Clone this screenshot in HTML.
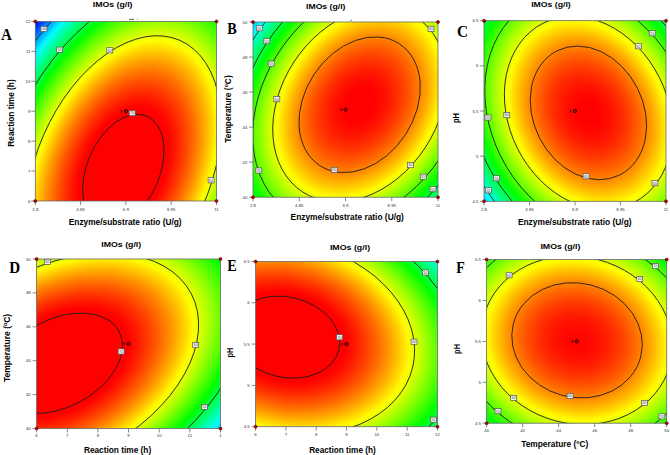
<!DOCTYPE html>
<html><head><meta charset="utf-8"><style>
html,body{margin:0;padding:0;background:#fff;}
body{width:670px;height:455px;overflow:hidden;}
svg{display:block;}
</style></head><body>
<svg width="670" height="455" viewBox="0 0 670 455">
<defs><radialGradient id="gA" gradientUnits="userSpaceOnUse" cx="0" cy="0" r="1" gradientTransform="matrix(100.65974 -231.19018 -142.43281 -62.01496 123.387 170.016)"><stop offset="0.0000" stop-color="#ff0000"/><stop offset="0.0111" stop-color="#ff0000"/><stop offset="0.0222" stop-color="#ff0000"/><stop offset="0.0333" stop-color="#ff0000"/><stop offset="0.0444" stop-color="#ff0000"/><stop offset="0.0556" stop-color="#ff0000"/><stop offset="0.0667" stop-color="#ff0000"/><stop offset="0.0778" stop-color="#ff0000"/><stop offset="0.0889" stop-color="#ff0000"/><stop offset="0.1000" stop-color="#ff0000"/><stop offset="0.1111" stop-color="#ff0000"/><stop offset="0.1222" stop-color="#ff0000"/><stop offset="0.1333" stop-color="#ff0000"/><stop offset="0.1444" stop-color="#ff0000"/><stop offset="0.1556" stop-color="#ff0000"/><stop offset="0.1667" stop-color="#ff0000"/><stop offset="0.1778" stop-color="#ff0000"/><stop offset="0.1889" stop-color="#ff0000"/><stop offset="0.2000" stop-color="#ff0000"/><stop offset="0.2111" stop-color="#ff0000"/><stop offset="0.2222" stop-color="#ff0000"/><stop offset="0.2333" stop-color="#ff0000"/><stop offset="0.2444" stop-color="#ff0000"/><stop offset="0.2556" stop-color="#ff0000"/><stop offset="0.2667" stop-color="#ff0400"/><stop offset="0.2778" stop-color="#ff0b00"/><stop offset="0.2889" stop-color="#ff1200"/><stop offset="0.3000" stop-color="#ff1a00"/><stop offset="0.3111" stop-color="#ff2100"/><stop offset="0.3222" stop-color="#ff2900"/><stop offset="0.3333" stop-color="#ff3200"/><stop offset="0.3444" stop-color="#ff3a00"/><stop offset="0.3556" stop-color="#ff4300"/><stop offset="0.3667" stop-color="#ff4c00"/><stop offset="0.3778" stop-color="#ff5600"/><stop offset="0.3889" stop-color="#ff5f00"/><stop offset="0.4000" stop-color="#ff6900"/><stop offset="0.4111" stop-color="#ff7300"/><stop offset="0.4222" stop-color="#ff7e00"/><stop offset="0.4333" stop-color="#ff8900"/><stop offset="0.4444" stop-color="#ff9400"/><stop offset="0.4556" stop-color="#ff9f00"/><stop offset="0.4667" stop-color="#ffab00"/><stop offset="0.4778" stop-color="#ffb700"/><stop offset="0.4889" stop-color="#ffc300"/><stop offset="0.5000" stop-color="#ffcf00"/><stop offset="0.5111" stop-color="#ffdc00"/><stop offset="0.5222" stop-color="#ffe900"/><stop offset="0.5333" stop-color="#fff700"/><stop offset="0.5444" stop-color="#faff00"/><stop offset="0.5556" stop-color="#ecff00"/><stop offset="0.5667" stop-color="#deff00"/><stop offset="0.5778" stop-color="#cfff00"/><stop offset="0.5889" stop-color="#c1ff00"/><stop offset="0.6000" stop-color="#b2ff00"/><stop offset="0.6111" stop-color="#a2ff00"/><stop offset="0.6222" stop-color="#93ff00"/><stop offset="0.6333" stop-color="#83ff00"/><stop offset="0.6444" stop-color="#73ff00"/><stop offset="0.6556" stop-color="#62ff00"/><stop offset="0.6667" stop-color="#52ff00"/><stop offset="0.6778" stop-color="#41ff00"/><stop offset="0.6889" stop-color="#2fff00"/><stop offset="0.7000" stop-color="#1eff00"/><stop offset="0.7111" stop-color="#0cff00"/><stop offset="0.7222" stop-color="#00ff06"/><stop offset="0.7333" stop-color="#00ff18"/><stop offset="0.7444" stop-color="#00ff2b"/><stop offset="0.7556" stop-color="#00ff3e"/><stop offset="0.7667" stop-color="#00ff51"/><stop offset="0.7778" stop-color="#00ff65"/><stop offset="0.7889" stop-color="#00ff78"/><stop offset="0.8000" stop-color="#00ff8c"/><stop offset="0.8111" stop-color="#00ffa1"/><stop offset="0.8222" stop-color="#00ffb5"/><stop offset="0.8333" stop-color="#00ffca"/><stop offset="0.8444" stop-color="#00ffdf"/><stop offset="0.8556" stop-color="#00fff5"/><stop offset="0.8667" stop-color="#00f3ff"/><stop offset="0.8778" stop-color="#00ddff"/><stop offset="0.8889" stop-color="#00c7ff"/><stop offset="0.9000" stop-color="#00b0ff"/><stop offset="0.9111" stop-color="#009aff"/><stop offset="0.9222" stop-color="#0082ff"/><stop offset="0.9333" stop-color="#006bff"/><stop offset="0.9444" stop-color="#0053ff"/><stop offset="0.9556" stop-color="#003bff"/><stop offset="0.9667" stop-color="#0023ff"/><stop offset="0.9778" stop-color="#000bff"/><stop offset="0.9889" stop-color="#0000ff"/><stop offset="1.0000" stop-color="#0000ff"/></radialGradient><clipPath id="cA"><rect x="35.30" y="21.40" width="181.20" height="179.60"/></clipPath><radialGradient id="gB" gradientUnits="userSpaceOnUse" cx="0" cy="0" r="1" gradientTransform="matrix(99.57933 -152.54940 -114.79084 -74.93176 359.628 104.727)"><stop offset="0.0000" stop-color="#ff0000"/><stop offset="0.0111" stop-color="#ff0000"/><stop offset="0.0222" stop-color="#ff0000"/><stop offset="0.0333" stop-color="#ff0000"/><stop offset="0.0444" stop-color="#ff0000"/><stop offset="0.0556" stop-color="#ff0000"/><stop offset="0.0667" stop-color="#ff0000"/><stop offset="0.0778" stop-color="#ff0000"/><stop offset="0.0889" stop-color="#ff0000"/><stop offset="0.1000" stop-color="#ff0100"/><stop offset="0.1111" stop-color="#ff0300"/><stop offset="0.1222" stop-color="#ff0600"/><stop offset="0.1333" stop-color="#ff0800"/><stop offset="0.1444" stop-color="#ff0b00"/><stop offset="0.1556" stop-color="#ff0e00"/><stop offset="0.1667" stop-color="#ff1100"/><stop offset="0.1778" stop-color="#ff1400"/><stop offset="0.1889" stop-color="#ff1800"/><stop offset="0.2000" stop-color="#ff1c00"/><stop offset="0.2111" stop-color="#ff2000"/><stop offset="0.2222" stop-color="#ff2400"/><stop offset="0.2333" stop-color="#ff2900"/><stop offset="0.2444" stop-color="#ff2d00"/><stop offset="0.2556" stop-color="#ff3200"/><stop offset="0.2667" stop-color="#ff3700"/><stop offset="0.2778" stop-color="#ff3d00"/><stop offset="0.2889" stop-color="#ff4200"/><stop offset="0.3000" stop-color="#ff4800"/><stop offset="0.3111" stop-color="#ff4e00"/><stop offset="0.3222" stop-color="#ff5400"/><stop offset="0.3333" stop-color="#ff5a00"/><stop offset="0.3444" stop-color="#ff6100"/><stop offset="0.3556" stop-color="#ff6800"/><stop offset="0.3667" stop-color="#ff6f00"/><stop offset="0.3778" stop-color="#ff7600"/><stop offset="0.3889" stop-color="#ff7e00"/><stop offset="0.4000" stop-color="#ff8600"/><stop offset="0.4111" stop-color="#ff8d00"/><stop offset="0.4222" stop-color="#ff9600"/><stop offset="0.4333" stop-color="#ff9e00"/><stop offset="0.4444" stop-color="#ffa700"/><stop offset="0.4556" stop-color="#ffaf00"/><stop offset="0.4667" stop-color="#ffb800"/><stop offset="0.4778" stop-color="#ffc200"/><stop offset="0.4889" stop-color="#ffcb00"/><stop offset="0.5000" stop-color="#ffd500"/><stop offset="0.5111" stop-color="#ffdf00"/><stop offset="0.5222" stop-color="#ffe900"/><stop offset="0.5333" stop-color="#fff300"/><stop offset="0.5444" stop-color="#fffe00"/><stop offset="0.5556" stop-color="#f6ff00"/><stop offset="0.5667" stop-color="#ebff00"/><stop offset="0.5778" stop-color="#dfff00"/><stop offset="0.5889" stop-color="#d4ff00"/><stop offset="0.6000" stop-color="#c8ff00"/><stop offset="0.6111" stop-color="#bcff00"/><stop offset="0.6222" stop-color="#b0ff00"/><stop offset="0.6333" stop-color="#a4ff00"/><stop offset="0.6444" stop-color="#98ff00"/><stop offset="0.6556" stop-color="#8bff00"/><stop offset="0.6667" stop-color="#7eff00"/><stop offset="0.6778" stop-color="#71ff00"/><stop offset="0.6889" stop-color="#63ff00"/><stop offset="0.7000" stop-color="#56ff00"/><stop offset="0.7111" stop-color="#48ff00"/><stop offset="0.7222" stop-color="#3aff00"/><stop offset="0.7333" stop-color="#2cff00"/><stop offset="0.7444" stop-color="#1dff00"/><stop offset="0.7556" stop-color="#0fff00"/><stop offset="0.7667" stop-color="#00ff00"/><stop offset="0.7778" stop-color="#00ff0f"/><stop offset="0.7889" stop-color="#00ff1f"/><stop offset="0.8000" stop-color="#00ff2e"/><stop offset="0.8111" stop-color="#00ff3e"/><stop offset="0.8222" stop-color="#00ff4e"/><stop offset="0.8333" stop-color="#00ff5e"/><stop offset="0.8444" stop-color="#00ff6f"/><stop offset="0.8556" stop-color="#00ff7f"/><stop offset="0.8667" stop-color="#00ff90"/><stop offset="0.8778" stop-color="#00ffa1"/><stop offset="0.8889" stop-color="#00ffb3"/><stop offset="0.9000" stop-color="#00ffc4"/><stop offset="0.9111" stop-color="#00ffd6"/><stop offset="0.9222" stop-color="#00ffe8"/><stop offset="0.9333" stop-color="#00fffa"/><stop offset="0.9444" stop-color="#00f2ff"/><stop offset="0.9556" stop-color="#00dfff"/><stop offset="0.9667" stop-color="#00ccff"/><stop offset="0.9778" stop-color="#00b9ff"/><stop offset="0.9889" stop-color="#00a6ff"/><stop offset="1.0000" stop-color="#0093ff"/></radialGradient><clipPath id="cB"><rect x="253.00" y="22.00" width="185.00" height="175.20"/></clipPath><radialGradient id="gC" gradientUnits="userSpaceOnUse" cx="0" cy="0" r="1" gradientTransform="matrix(-78.56603 -155.81613 -123.03020 62.03462 588.406 112.918)"><stop offset="0.0000" stop-color="#ff0000"/><stop offset="0.0111" stop-color="#ff0000"/><stop offset="0.0222" stop-color="#ff0000"/><stop offset="0.0333" stop-color="#ff0000"/><stop offset="0.0444" stop-color="#ff0000"/><stop offset="0.0556" stop-color="#ff0000"/><stop offset="0.0667" stop-color="#ff0100"/><stop offset="0.0778" stop-color="#ff0200"/><stop offset="0.0889" stop-color="#ff0400"/><stop offset="0.1000" stop-color="#ff0600"/><stop offset="0.1111" stop-color="#ff0800"/><stop offset="0.1222" stop-color="#ff0a00"/><stop offset="0.1333" stop-color="#ff0c00"/><stop offset="0.1444" stop-color="#ff0f00"/><stop offset="0.1556" stop-color="#ff1200"/><stop offset="0.1667" stop-color="#ff1500"/><stop offset="0.1778" stop-color="#ff1800"/><stop offset="0.1889" stop-color="#ff1c00"/><stop offset="0.2000" stop-color="#ff1f00"/><stop offset="0.2111" stop-color="#ff2300"/><stop offset="0.2222" stop-color="#ff2700"/><stop offset="0.2333" stop-color="#ff2c00"/><stop offset="0.2444" stop-color="#ff3000"/><stop offset="0.2556" stop-color="#ff3500"/><stop offset="0.2667" stop-color="#ff3a00"/><stop offset="0.2778" stop-color="#ff3f00"/><stop offset="0.2889" stop-color="#ff4500"/><stop offset="0.3000" stop-color="#ff4a00"/><stop offset="0.3111" stop-color="#ff5000"/><stop offset="0.3222" stop-color="#ff5600"/><stop offset="0.3333" stop-color="#ff5c00"/><stop offset="0.3444" stop-color="#ff6300"/><stop offset="0.3556" stop-color="#ff6900"/><stop offset="0.3667" stop-color="#ff7000"/><stop offset="0.3778" stop-color="#ff7700"/><stop offset="0.3889" stop-color="#ff7f00"/><stop offset="0.4000" stop-color="#ff8600"/><stop offset="0.4111" stop-color="#ff8e00"/><stop offset="0.4222" stop-color="#ff9600"/><stop offset="0.4333" stop-color="#ff9e00"/><stop offset="0.4444" stop-color="#ffa600"/><stop offset="0.4556" stop-color="#ffaf00"/><stop offset="0.4667" stop-color="#ffb700"/><stop offset="0.4778" stop-color="#ffc000"/><stop offset="0.4889" stop-color="#ffca00"/><stop offset="0.5000" stop-color="#ffd300"/><stop offset="0.5111" stop-color="#ffdd00"/><stop offset="0.5222" stop-color="#ffe600"/><stop offset="0.5333" stop-color="#fff100"/><stop offset="0.5444" stop-color="#fffb00"/><stop offset="0.5556" stop-color="#f9ff00"/><stop offset="0.5667" stop-color="#eeff00"/><stop offset="0.5778" stop-color="#e3ff00"/><stop offset="0.5889" stop-color="#d8ff00"/><stop offset="0.6000" stop-color="#cdff00"/><stop offset="0.6111" stop-color="#c1ff00"/><stop offset="0.6222" stop-color="#b6ff00"/><stop offset="0.6333" stop-color="#aaff00"/><stop offset="0.6444" stop-color="#9eff00"/><stop offset="0.6556" stop-color="#91ff00"/><stop offset="0.6667" stop-color="#85ff00"/><stop offset="0.6778" stop-color="#78ff00"/><stop offset="0.6889" stop-color="#6bff00"/><stop offset="0.7000" stop-color="#5eff00"/><stop offset="0.7111" stop-color="#50ff00"/><stop offset="0.7222" stop-color="#43ff00"/><stop offset="0.7333" stop-color="#35ff00"/><stop offset="0.7444" stop-color="#27ff00"/><stop offset="0.7556" stop-color="#18ff00"/><stop offset="0.7667" stop-color="#0aff00"/><stop offset="0.7778" stop-color="#00ff05"/><stop offset="0.7889" stop-color="#00ff14"/><stop offset="0.8000" stop-color="#00ff23"/><stop offset="0.8111" stop-color="#00ff32"/><stop offset="0.8222" stop-color="#00ff41"/><stop offset="0.8333" stop-color="#00ff51"/><stop offset="0.8444" stop-color="#00ff61"/><stop offset="0.8556" stop-color="#00ff71"/><stop offset="0.8667" stop-color="#00ff82"/><stop offset="0.8778" stop-color="#00ff92"/><stop offset="0.8889" stop-color="#00ffa3"/><stop offset="0.9000" stop-color="#00ffb4"/><stop offset="0.9111" stop-color="#00ffc5"/><stop offset="0.9222" stop-color="#00ffd7"/><stop offset="0.9333" stop-color="#00ffe8"/><stop offset="0.9444" stop-color="#00fffa"/><stop offset="0.9556" stop-color="#00f2ff"/><stop offset="0.9667" stop-color="#00dfff"/><stop offset="0.9778" stop-color="#00cdff"/><stop offset="0.9889" stop-color="#00baff"/><stop offset="1.0000" stop-color="#00a7ff"/></radialGradient><clipPath id="cC"><rect x="484.00" y="20.70" width="182.00" height="180.60"/></clipPath><radialGradient id="gD" gradientUnits="userSpaceOnUse" cx="0" cy="0" r="1" gradientTransform="matrix(-210.72770 111.19632 71.90722 136.27110 58.979 363.232)"><stop offset="0.0000" stop-color="#ff0000"/><stop offset="0.0111" stop-color="#ff0000"/><stop offset="0.0222" stop-color="#ff0000"/><stop offset="0.0333" stop-color="#ff0000"/><stop offset="0.0444" stop-color="#ff0000"/><stop offset="0.0556" stop-color="#ff0000"/><stop offset="0.0667" stop-color="#ff0000"/><stop offset="0.0778" stop-color="#ff0000"/><stop offset="0.0889" stop-color="#ff0000"/><stop offset="0.1000" stop-color="#ff0000"/><stop offset="0.1111" stop-color="#ff0000"/><stop offset="0.1222" stop-color="#ff0000"/><stop offset="0.1333" stop-color="#ff0000"/><stop offset="0.1444" stop-color="#ff0000"/><stop offset="0.1556" stop-color="#ff0000"/><stop offset="0.1667" stop-color="#ff0000"/><stop offset="0.1778" stop-color="#ff0000"/><stop offset="0.1889" stop-color="#ff0000"/><stop offset="0.2000" stop-color="#ff0000"/><stop offset="0.2111" stop-color="#ff0000"/><stop offset="0.2222" stop-color="#ff0000"/><stop offset="0.2333" stop-color="#ff0000"/><stop offset="0.2444" stop-color="#ff0000"/><stop offset="0.2556" stop-color="#ff0000"/><stop offset="0.2667" stop-color="#ff0000"/><stop offset="0.2778" stop-color="#ff0000"/><stop offset="0.2889" stop-color="#ff0000"/><stop offset="0.3000" stop-color="#ff0000"/><stop offset="0.3111" stop-color="#ff0000"/><stop offset="0.3222" stop-color="#ff0600"/><stop offset="0.3333" stop-color="#ff0d00"/><stop offset="0.3444" stop-color="#ff1400"/><stop offset="0.3556" stop-color="#ff1c00"/><stop offset="0.3667" stop-color="#ff2300"/><stop offset="0.3778" stop-color="#ff2b00"/><stop offset="0.3889" stop-color="#ff3300"/><stop offset="0.4000" stop-color="#ff3c00"/><stop offset="0.4111" stop-color="#ff4400"/><stop offset="0.4222" stop-color="#ff4d00"/><stop offset="0.4333" stop-color="#ff5600"/><stop offset="0.4444" stop-color="#ff5f00"/><stop offset="0.4556" stop-color="#ff6900"/><stop offset="0.4667" stop-color="#ff7200"/><stop offset="0.4778" stop-color="#ff7c00"/><stop offset="0.4889" stop-color="#ff8600"/><stop offset="0.5000" stop-color="#ff9100"/><stop offset="0.5111" stop-color="#ff9b00"/><stop offset="0.5222" stop-color="#ffa600"/><stop offset="0.5333" stop-color="#ffb100"/><stop offset="0.5444" stop-color="#ffbd00"/><stop offset="0.5556" stop-color="#ffc800"/><stop offset="0.5667" stop-color="#ffd400"/><stop offset="0.5778" stop-color="#ffe000"/><stop offset="0.5889" stop-color="#ffed00"/><stop offset="0.6000" stop-color="#fff900"/><stop offset="0.6111" stop-color="#f8ff00"/><stop offset="0.6222" stop-color="#ebff00"/><stop offset="0.6333" stop-color="#deff00"/><stop offset="0.6444" stop-color="#d1ff00"/><stop offset="0.6556" stop-color="#c3ff00"/><stop offset="0.6667" stop-color="#b5ff00"/><stop offset="0.6778" stop-color="#a7ff00"/><stop offset="0.6889" stop-color="#98ff00"/><stop offset="0.7000" stop-color="#8aff00"/><stop offset="0.7111" stop-color="#7bff00"/><stop offset="0.7222" stop-color="#6cff00"/><stop offset="0.7333" stop-color="#5dff00"/><stop offset="0.7444" stop-color="#4dff00"/><stop offset="0.7556" stop-color="#3dff00"/><stop offset="0.7667" stop-color="#2dff00"/><stop offset="0.7778" stop-color="#1dff00"/><stop offset="0.7889" stop-color="#0cff00"/><stop offset="0.8000" stop-color="#00ff04"/><stop offset="0.8111" stop-color="#00ff15"/><stop offset="0.8222" stop-color="#00ff26"/><stop offset="0.8333" stop-color="#00ff38"/><stop offset="0.8444" stop-color="#00ff49"/><stop offset="0.8556" stop-color="#00ff5b"/><stop offset="0.8667" stop-color="#00ff6d"/><stop offset="0.8778" stop-color="#00ff80"/><stop offset="0.8889" stop-color="#00ff92"/><stop offset="0.9000" stop-color="#00ffa5"/><stop offset="0.9111" stop-color="#00ffb8"/><stop offset="0.9222" stop-color="#00ffcc"/><stop offset="0.9333" stop-color="#00ffdf"/><stop offset="0.9444" stop-color="#00fff3"/><stop offset="0.9556" stop-color="#00f7ff"/><stop offset="0.9667" stop-color="#00e3ff"/><stop offset="0.9778" stop-color="#00ceff"/><stop offset="0.9889" stop-color="#00baff"/><stop offset="1.0000" stop-color="#00a5ff"/></radialGradient><clipPath id="cD"><rect x="36.60" y="259.00" width="183.90" height="169.50"/></clipPath><radialGradient id="gE" gradientUnits="userSpaceOnUse" cx="0" cy="0" r="1" gradientTransform="matrix(-195.13364 -45.80013 -33.64854 143.36122 285.703 337.143)"><stop offset="0.0000" stop-color="#ff0000"/><stop offset="0.0111" stop-color="#ff0000"/><stop offset="0.0222" stop-color="#ff0000"/><stop offset="0.0333" stop-color="#ff0000"/><stop offset="0.0444" stop-color="#ff0000"/><stop offset="0.0556" stop-color="#ff0000"/><stop offset="0.0667" stop-color="#ff0000"/><stop offset="0.0778" stop-color="#ff0000"/><stop offset="0.0889" stop-color="#ff0000"/><stop offset="0.1000" stop-color="#ff0000"/><stop offset="0.1111" stop-color="#ff0000"/><stop offset="0.1222" stop-color="#ff0000"/><stop offset="0.1333" stop-color="#ff0000"/><stop offset="0.1444" stop-color="#ff0000"/><stop offset="0.1556" stop-color="#ff0000"/><stop offset="0.1667" stop-color="#ff0000"/><stop offset="0.1778" stop-color="#ff0000"/><stop offset="0.1889" stop-color="#ff0000"/><stop offset="0.2000" stop-color="#ff0000"/><stop offset="0.2111" stop-color="#ff0000"/><stop offset="0.2222" stop-color="#ff0000"/><stop offset="0.2333" stop-color="#ff0000"/><stop offset="0.2444" stop-color="#ff0000"/><stop offset="0.2556" stop-color="#ff0000"/><stop offset="0.2667" stop-color="#ff0000"/><stop offset="0.2778" stop-color="#ff0000"/><stop offset="0.2889" stop-color="#ff0000"/><stop offset="0.3000" stop-color="#ff0000"/><stop offset="0.3111" stop-color="#ff0400"/><stop offset="0.3222" stop-color="#ff0a00"/><stop offset="0.3333" stop-color="#ff1000"/><stop offset="0.3444" stop-color="#ff1700"/><stop offset="0.3556" stop-color="#ff1d00"/><stop offset="0.3667" stop-color="#ff2400"/><stop offset="0.3778" stop-color="#ff2b00"/><stop offset="0.3889" stop-color="#ff3200"/><stop offset="0.4000" stop-color="#ff3a00"/><stop offset="0.4111" stop-color="#ff4100"/><stop offset="0.4222" stop-color="#ff4900"/><stop offset="0.4333" stop-color="#ff5100"/><stop offset="0.4444" stop-color="#ff5900"/><stop offset="0.4556" stop-color="#ff6200"/><stop offset="0.4667" stop-color="#ff6a00"/><stop offset="0.4778" stop-color="#ff7300"/><stop offset="0.4889" stop-color="#ff7c00"/><stop offset="0.5000" stop-color="#ff8600"/><stop offset="0.5111" stop-color="#ff8f00"/><stop offset="0.5222" stop-color="#ff9900"/><stop offset="0.5333" stop-color="#ffa300"/><stop offset="0.5444" stop-color="#ffad00"/><stop offset="0.5556" stop-color="#ffb700"/><stop offset="0.5667" stop-color="#ffc200"/><stop offset="0.5778" stop-color="#ffcd00"/><stop offset="0.5889" stop-color="#ffd800"/><stop offset="0.6000" stop-color="#ffe300"/><stop offset="0.6111" stop-color="#ffee00"/><stop offset="0.6222" stop-color="#fffa00"/><stop offset="0.6333" stop-color="#f9ff00"/><stop offset="0.6444" stop-color="#edff00"/><stop offset="0.6556" stop-color="#e0ff00"/><stop offset="0.6667" stop-color="#d4ff00"/><stop offset="0.6778" stop-color="#c7ff00"/><stop offset="0.6889" stop-color="#baff00"/><stop offset="0.7000" stop-color="#adff00"/><stop offset="0.7111" stop-color="#a0ff00"/><stop offset="0.7222" stop-color="#93ff00"/><stop offset="0.7333" stop-color="#85ff00"/><stop offset="0.7444" stop-color="#77ff00"/><stop offset="0.7556" stop-color="#69ff00"/><stop offset="0.7667" stop-color="#5bff00"/><stop offset="0.7778" stop-color="#4cff00"/><stop offset="0.7889" stop-color="#3dff00"/><stop offset="0.8000" stop-color="#2fff00"/><stop offset="0.8111" stop-color="#1fff00"/><stop offset="0.8222" stop-color="#10ff00"/><stop offset="0.8333" stop-color="#00ff00"/><stop offset="0.8444" stop-color="#00ff0f"/><stop offset="0.8556" stop-color="#00ff1f"/><stop offset="0.8667" stop-color="#00ff2f"/><stop offset="0.8778" stop-color="#00ff40"/><stop offset="0.8889" stop-color="#00ff50"/><stop offset="0.9000" stop-color="#00ff61"/><stop offset="0.9111" stop-color="#00ff72"/><stop offset="0.9222" stop-color="#00ff83"/><stop offset="0.9333" stop-color="#00ff95"/><stop offset="0.9444" stop-color="#00ffa7"/><stop offset="0.9556" stop-color="#00ffb8"/><stop offset="0.9667" stop-color="#00ffca"/><stop offset="0.9778" stop-color="#00ffdd"/><stop offset="0.9889" stop-color="#00ffef"/><stop offset="1.0000" stop-color="#00fcff"/></radialGradient><clipPath id="cE"><rect x="255.60" y="261.50" width="181.90" height="165.20"/></clipPath><radialGradient id="gF" gradientUnits="userSpaceOnUse" cx="0" cy="0" r="1" gradientTransform="matrix(-135.29281 -35.60502 -30.85629 117.24848 577.052 340.294)"><stop offset="0.0000" stop-color="#ff0300"/><stop offset="0.0111" stop-color="#ff0300"/><stop offset="0.0222" stop-color="#ff0400"/><stop offset="0.0333" stop-color="#ff0400"/><stop offset="0.0444" stop-color="#ff0400"/><stop offset="0.0556" stop-color="#ff0500"/><stop offset="0.0667" stop-color="#ff0600"/><stop offset="0.0778" stop-color="#ff0700"/><stop offset="0.0889" stop-color="#ff0800"/><stop offset="0.1000" stop-color="#ff0900"/><stop offset="0.1111" stop-color="#ff0b00"/><stop offset="0.1222" stop-color="#ff0c00"/><stop offset="0.1333" stop-color="#ff0e00"/><stop offset="0.1444" stop-color="#ff1000"/><stop offset="0.1556" stop-color="#ff1200"/><stop offset="0.1667" stop-color="#ff1400"/><stop offset="0.1778" stop-color="#ff1600"/><stop offset="0.1889" stop-color="#ff1800"/><stop offset="0.2000" stop-color="#ff1b00"/><stop offset="0.2111" stop-color="#ff1d00"/><stop offset="0.2222" stop-color="#ff2000"/><stop offset="0.2333" stop-color="#ff2300"/><stop offset="0.2444" stop-color="#ff2600"/><stop offset="0.2556" stop-color="#ff2a00"/><stop offset="0.2667" stop-color="#ff2d00"/><stop offset="0.2778" stop-color="#ff3100"/><stop offset="0.2889" stop-color="#ff3400"/><stop offset="0.3000" stop-color="#ff3800"/><stop offset="0.3111" stop-color="#ff3c00"/><stop offset="0.3222" stop-color="#ff4000"/><stop offset="0.3333" stop-color="#ff4400"/><stop offset="0.3444" stop-color="#ff4900"/><stop offset="0.3556" stop-color="#ff4d00"/><stop offset="0.3667" stop-color="#ff5200"/><stop offset="0.3778" stop-color="#ff5700"/><stop offset="0.3889" stop-color="#ff5c00"/><stop offset="0.4000" stop-color="#ff6100"/><stop offset="0.4111" stop-color="#ff6600"/><stop offset="0.4222" stop-color="#ff6c00"/><stop offset="0.4333" stop-color="#ff7100"/><stop offset="0.4444" stop-color="#ff7700"/><stop offset="0.4556" stop-color="#ff7d00"/><stop offset="0.4667" stop-color="#ff8300"/><stop offset="0.4778" stop-color="#ff8900"/><stop offset="0.4889" stop-color="#ff8f00"/><stop offset="0.5000" stop-color="#ff9600"/><stop offset="0.5111" stop-color="#ff9d00"/><stop offset="0.5222" stop-color="#ffa300"/><stop offset="0.5333" stop-color="#ffaa00"/><stop offset="0.5444" stop-color="#ffb100"/><stop offset="0.5556" stop-color="#ffb800"/><stop offset="0.5667" stop-color="#ffc000"/><stop offset="0.5778" stop-color="#ffc700"/><stop offset="0.5889" stop-color="#ffcf00"/><stop offset="0.6000" stop-color="#ffd600"/><stop offset="0.6111" stop-color="#ffde00"/><stop offset="0.6222" stop-color="#ffe600"/><stop offset="0.6333" stop-color="#ffef00"/><stop offset="0.6444" stop-color="#fff700"/><stop offset="0.6556" stop-color="#ffff00"/><stop offset="0.6667" stop-color="#f6ff00"/><stop offset="0.6778" stop-color="#edff00"/><stop offset="0.6889" stop-color="#e4ff00"/><stop offset="0.7000" stop-color="#dbff00"/><stop offset="0.7111" stop-color="#d2ff00"/><stop offset="0.7222" stop-color="#c9ff00"/><stop offset="0.7333" stop-color="#bfff00"/><stop offset="0.7444" stop-color="#b6ff00"/><stop offset="0.7556" stop-color="#acff00"/><stop offset="0.7667" stop-color="#a2ff00"/><stop offset="0.7778" stop-color="#98ff00"/><stop offset="0.7889" stop-color="#8eff00"/><stop offset="0.8000" stop-color="#83ff00"/><stop offset="0.8111" stop-color="#79ff00"/><stop offset="0.8222" stop-color="#6eff00"/><stop offset="0.8333" stop-color="#63ff00"/><stop offset="0.8444" stop-color="#59ff00"/><stop offset="0.8556" stop-color="#4dff00"/><stop offset="0.8667" stop-color="#42ff00"/><stop offset="0.8778" stop-color="#37ff00"/><stop offset="0.8889" stop-color="#2bff00"/><stop offset="0.9000" stop-color="#20ff00"/><stop offset="0.9111" stop-color="#14ff00"/><stop offset="0.9222" stop-color="#08ff00"/><stop offset="0.9333" stop-color="#00ff04"/><stop offset="0.9444" stop-color="#00ff10"/><stop offset="0.9556" stop-color="#00ff1d"/><stop offset="0.9667" stop-color="#00ff29"/><stop offset="0.9778" stop-color="#00ff36"/><stop offset="0.9889" stop-color="#00ff43"/><stop offset="1.0000" stop-color="#00ff50"/></radialGradient><clipPath id="cF"><rect x="486.60" y="259.60" width="180.10" height="163.60"/></clipPath></defs>
<line x1="35.30" y1="201.00" x2="35.30" y2="205.00" stroke="#555" stroke-width="0.7"/>
<text x="35.30" y="210.90" text-anchor="middle" style="font-family:'Liberation Sans',sans-serif;font-size:4.4px;" fill="#333">2.8</text>
<line x1="80.60" y1="201.00" x2="80.60" y2="205.00" stroke="#555" stroke-width="0.7"/>
<text x="80.60" y="210.90" text-anchor="middle" style="font-family:'Liberation Sans',sans-serif;font-size:4.4px;" fill="#333">4.85</text>
<line x1="125.90" y1="201.00" x2="125.90" y2="205.00" stroke="#555" stroke-width="0.7"/>
<text x="125.90" y="210.90" text-anchor="middle" style="font-family:'Liberation Sans',sans-serif;font-size:4.4px;" fill="#333">6.9</text>
<line x1="171.20" y1="201.00" x2="171.20" y2="205.00" stroke="#555" stroke-width="0.7"/>
<text x="171.20" y="210.90" text-anchor="middle" style="font-family:'Liberation Sans',sans-serif;font-size:4.4px;" fill="#333">8.95</text>
<line x1="216.50" y1="201.00" x2="216.50" y2="205.00" stroke="#555" stroke-width="0.7"/>
<text x="216.50" y="210.90" text-anchor="middle" style="font-family:'Liberation Sans',sans-serif;font-size:4.4px;" fill="#333">11</text>
<line x1="31.30" y1="21.40" x2="35.30" y2="21.40" stroke="#555" stroke-width="0.7"/>
<text x="30.50" y="22.90" text-anchor="end" style="font-family:'Liberation Sans',sans-serif;font-size:4.4px;" fill="#333">12</text>
<line x1="31.30" y1="51.33" x2="35.30" y2="51.33" stroke="#555" stroke-width="0.7"/>
<text x="30.50" y="52.83" text-anchor="end" style="font-family:'Liberation Sans',sans-serif;font-size:4.4px;" fill="#333">11</text>
<line x1="31.30" y1="81.27" x2="35.30" y2="81.27" stroke="#555" stroke-width="0.7"/>
<text x="30.50" y="82.77" text-anchor="end" style="font-family:'Liberation Sans',sans-serif;font-size:4.4px;" fill="#333">10</text>
<line x1="31.30" y1="111.20" x2="35.30" y2="111.20" stroke="#555" stroke-width="0.7"/>
<text x="30.50" y="112.70" text-anchor="end" style="font-family:'Liberation Sans',sans-serif;font-size:4.4px;" fill="#333">9</text>
<line x1="31.30" y1="141.13" x2="35.30" y2="141.13" stroke="#555" stroke-width="0.7"/>
<text x="30.50" y="142.63" text-anchor="end" style="font-family:'Liberation Sans',sans-serif;font-size:4.4px;" fill="#333">8</text>
<line x1="31.30" y1="171.07" x2="35.30" y2="171.07" stroke="#555" stroke-width="0.7"/>
<text x="30.50" y="172.57" text-anchor="end" style="font-family:'Liberation Sans',sans-serif;font-size:4.4px;" fill="#333">7</text>
<line x1="31.30" y1="201.00" x2="35.30" y2="201.00" stroke="#555" stroke-width="0.7"/>
<text x="30.50" y="202.50" text-anchor="end" style="font-family:'Liberation Sans',sans-serif;font-size:4.4px;" fill="#333">6</text>
<line x1="253.00" y1="197.20" x2="253.00" y2="201.20" stroke="#555" stroke-width="0.7"/>
<text x="253.00" y="206.60" text-anchor="middle" style="font-family:'Liberation Sans',sans-serif;font-size:4.4px;" fill="#333">2.8</text>
<line x1="299.25" y1="197.20" x2="299.25" y2="201.20" stroke="#555" stroke-width="0.7"/>
<text x="299.25" y="206.60" text-anchor="middle" style="font-family:'Liberation Sans',sans-serif;font-size:4.4px;" fill="#333">4.85</text>
<line x1="345.50" y1="197.20" x2="345.50" y2="201.20" stroke="#555" stroke-width="0.7"/>
<text x="345.50" y="206.60" text-anchor="middle" style="font-family:'Liberation Sans',sans-serif;font-size:4.4px;" fill="#333">6.9</text>
<line x1="391.75" y1="197.20" x2="391.75" y2="201.20" stroke="#555" stroke-width="0.7"/>
<text x="391.75" y="206.60" text-anchor="middle" style="font-family:'Liberation Sans',sans-serif;font-size:4.4px;" fill="#333">8.95</text>
<line x1="438.00" y1="197.20" x2="438.00" y2="201.20" stroke="#555" stroke-width="0.7"/>
<text x="438.00" y="206.60" text-anchor="middle" style="font-family:'Liberation Sans',sans-serif;font-size:4.4px;" fill="#333">11</text>
<line x1="249.00" y1="22.00" x2="253.00" y2="22.00" stroke="#555" stroke-width="0.7"/>
<text x="247.50" y="23.50" text-anchor="end" style="font-family:'Liberation Sans',sans-serif;font-size:4.4px;" fill="#333">50</text>
<line x1="249.00" y1="57.04" x2="253.00" y2="57.04" stroke="#555" stroke-width="0.7"/>
<text x="247.50" y="58.54" text-anchor="end" style="font-family:'Liberation Sans',sans-serif;font-size:4.4px;" fill="#333">48</text>
<line x1="249.00" y1="92.08" x2="253.00" y2="92.08" stroke="#555" stroke-width="0.7"/>
<text x="247.50" y="93.58" text-anchor="end" style="font-family:'Liberation Sans',sans-serif;font-size:4.4px;" fill="#333">46</text>
<line x1="249.00" y1="127.12" x2="253.00" y2="127.12" stroke="#555" stroke-width="0.7"/>
<text x="247.50" y="128.62" text-anchor="end" style="font-family:'Liberation Sans',sans-serif;font-size:4.4px;" fill="#333">44</text>
<line x1="249.00" y1="162.16" x2="253.00" y2="162.16" stroke="#555" stroke-width="0.7"/>
<text x="247.50" y="163.66" text-anchor="end" style="font-family:'Liberation Sans',sans-serif;font-size:4.4px;" fill="#333">42</text>
<line x1="249.00" y1="197.20" x2="253.00" y2="197.20" stroke="#555" stroke-width="0.7"/>
<text x="247.50" y="198.70" text-anchor="end" style="font-family:'Liberation Sans',sans-serif;font-size:4.4px;" fill="#333">40</text>
<line x1="484.00" y1="201.30" x2="484.00" y2="205.30" stroke="#555" stroke-width="0.7"/>
<text x="484.00" y="210.90" text-anchor="middle" style="font-family:'Liberation Sans',sans-serif;font-size:4.4px;" fill="#333">2.8</text>
<line x1="529.50" y1="201.30" x2="529.50" y2="205.30" stroke="#555" stroke-width="0.7"/>
<text x="529.50" y="210.90" text-anchor="middle" style="font-family:'Liberation Sans',sans-serif;font-size:4.4px;" fill="#333">4.85</text>
<line x1="575.00" y1="201.30" x2="575.00" y2="205.30" stroke="#555" stroke-width="0.7"/>
<text x="575.00" y="210.90" text-anchor="middle" style="font-family:'Liberation Sans',sans-serif;font-size:4.4px;" fill="#333">6.9</text>
<line x1="620.50" y1="201.30" x2="620.50" y2="205.30" stroke="#555" stroke-width="0.7"/>
<text x="620.50" y="210.90" text-anchor="middle" style="font-family:'Liberation Sans',sans-serif;font-size:4.4px;" fill="#333">8.95</text>
<line x1="666.00" y1="201.30" x2="666.00" y2="205.30" stroke="#555" stroke-width="0.7"/>
<text x="666.00" y="210.90" text-anchor="middle" style="font-family:'Liberation Sans',sans-serif;font-size:4.4px;" fill="#333">11</text>
<line x1="480.00" y1="20.70" x2="484.00" y2="20.70" stroke="#555" stroke-width="0.7"/>
<text x="478.50" y="22.20" text-anchor="end" style="font-family:'Liberation Sans',sans-serif;font-size:4.4px;" fill="#333">6.5</text>
<line x1="480.00" y1="65.85" x2="484.00" y2="65.85" stroke="#555" stroke-width="0.7"/>
<text x="478.50" y="67.35" text-anchor="end" style="font-family:'Liberation Sans',sans-serif;font-size:4.4px;" fill="#333">6</text>
<line x1="480.00" y1="111.00" x2="484.00" y2="111.00" stroke="#555" stroke-width="0.7"/>
<text x="478.50" y="112.50" text-anchor="end" style="font-family:'Liberation Sans',sans-serif;font-size:4.4px;" fill="#333">5.5</text>
<line x1="480.00" y1="156.15" x2="484.00" y2="156.15" stroke="#555" stroke-width="0.7"/>
<text x="478.50" y="157.65" text-anchor="end" style="font-family:'Liberation Sans',sans-serif;font-size:4.4px;" fill="#333">5</text>
<line x1="480.00" y1="201.30" x2="484.00" y2="201.30" stroke="#555" stroke-width="0.7"/>
<text x="478.50" y="202.80" text-anchor="end" style="font-family:'Liberation Sans',sans-serif;font-size:4.4px;" fill="#333">4.5</text>
<line x1="36.60" y1="428.50" x2="36.60" y2="432.50" stroke="#555" stroke-width="0.7"/>
<text x="36.60" y="437.30" text-anchor="middle" style="font-family:'Liberation Sans',sans-serif;font-size:4.4px;" fill="#333">6</text>
<line x1="67.25" y1="428.50" x2="67.25" y2="432.50" stroke="#555" stroke-width="0.7"/>
<text x="67.25" y="437.30" text-anchor="middle" style="font-family:'Liberation Sans',sans-serif;font-size:4.4px;" fill="#333">7</text>
<line x1="97.90" y1="428.50" x2="97.90" y2="432.50" stroke="#555" stroke-width="0.7"/>
<text x="97.90" y="437.30" text-anchor="middle" style="font-family:'Liberation Sans',sans-serif;font-size:4.4px;" fill="#333">8</text>
<line x1="128.55" y1="428.50" x2="128.55" y2="432.50" stroke="#555" stroke-width="0.7"/>
<text x="128.55" y="437.30" text-anchor="middle" style="font-family:'Liberation Sans',sans-serif;font-size:4.4px;" fill="#333">9</text>
<line x1="159.20" y1="428.50" x2="159.20" y2="432.50" stroke="#555" stroke-width="0.7"/>
<text x="159.20" y="437.30" text-anchor="middle" style="font-family:'Liberation Sans',sans-serif;font-size:4.4px;" fill="#333">10</text>
<line x1="189.85" y1="428.50" x2="189.85" y2="432.50" stroke="#555" stroke-width="0.7"/>
<text x="189.85" y="437.30" text-anchor="middle" style="font-family:'Liberation Sans',sans-serif;font-size:4.4px;" fill="#333">11</text>
<line x1="220.50" y1="428.50" x2="220.50" y2="432.50" stroke="#555" stroke-width="0.7"/>
<text x="220.50" y="437.30" text-anchor="middle" style="font-family:'Liberation Sans',sans-serif;font-size:4.4px;" fill="#333">1</text>
<line x1="32.60" y1="259.00" x2="36.60" y2="259.00" stroke="#555" stroke-width="0.7"/>
<text x="30.80" y="260.50" text-anchor="end" style="font-family:'Liberation Sans',sans-serif;font-size:4.4px;" fill="#333">50</text>
<line x1="32.60" y1="292.90" x2="36.60" y2="292.90" stroke="#555" stroke-width="0.7"/>
<text x="30.80" y="294.40" text-anchor="end" style="font-family:'Liberation Sans',sans-serif;font-size:4.4px;" fill="#333">48</text>
<line x1="32.60" y1="326.80" x2="36.60" y2="326.80" stroke="#555" stroke-width="0.7"/>
<text x="30.80" y="328.30" text-anchor="end" style="font-family:'Liberation Sans',sans-serif;font-size:4.4px;" fill="#333">46</text>
<line x1="32.60" y1="360.70" x2="36.60" y2="360.70" stroke="#555" stroke-width="0.7"/>
<text x="30.80" y="362.20" text-anchor="end" style="font-family:'Liberation Sans',sans-serif;font-size:4.4px;" fill="#333">44</text>
<line x1="32.60" y1="394.60" x2="36.60" y2="394.60" stroke="#555" stroke-width="0.7"/>
<text x="30.80" y="396.10" text-anchor="end" style="font-family:'Liberation Sans',sans-serif;font-size:4.4px;" fill="#333">42</text>
<line x1="32.60" y1="428.50" x2="36.60" y2="428.50" stroke="#555" stroke-width="0.7"/>
<text x="30.80" y="430.00" text-anchor="end" style="font-family:'Liberation Sans',sans-serif;font-size:4.4px;" fill="#333">40</text>
<line x1="255.60" y1="426.70" x2="255.60" y2="430.70" stroke="#555" stroke-width="0.7"/>
<text x="255.60" y="435.50" text-anchor="middle" style="font-family:'Liberation Sans',sans-serif;font-size:4.4px;" fill="#333">6</text>
<line x1="285.92" y1="426.70" x2="285.92" y2="430.70" stroke="#555" stroke-width="0.7"/>
<text x="285.92" y="435.50" text-anchor="middle" style="font-family:'Liberation Sans',sans-serif;font-size:4.4px;" fill="#333">7</text>
<line x1="316.23" y1="426.70" x2="316.23" y2="430.70" stroke="#555" stroke-width="0.7"/>
<text x="316.23" y="435.50" text-anchor="middle" style="font-family:'Liberation Sans',sans-serif;font-size:4.4px;" fill="#333">8</text>
<line x1="346.55" y1="426.70" x2="346.55" y2="430.70" stroke="#555" stroke-width="0.7"/>
<text x="346.55" y="435.50" text-anchor="middle" style="font-family:'Liberation Sans',sans-serif;font-size:4.4px;" fill="#333">9</text>
<line x1="376.87" y1="426.70" x2="376.87" y2="430.70" stroke="#555" stroke-width="0.7"/>
<text x="376.87" y="435.50" text-anchor="middle" style="font-family:'Liberation Sans',sans-serif;font-size:4.4px;" fill="#333">10</text>
<line x1="407.18" y1="426.70" x2="407.18" y2="430.70" stroke="#555" stroke-width="0.7"/>
<text x="407.18" y="435.50" text-anchor="middle" style="font-family:'Liberation Sans',sans-serif;font-size:4.4px;" fill="#333">11</text>
<line x1="437.50" y1="426.70" x2="437.50" y2="430.70" stroke="#555" stroke-width="0.7"/>
<text x="437.50" y="435.50" text-anchor="middle" style="font-family:'Liberation Sans',sans-serif;font-size:4.4px;" fill="#333">12</text>
<line x1="251.60" y1="261.50" x2="255.60" y2="261.50" stroke="#555" stroke-width="0.7"/>
<text x="249.80" y="263.00" text-anchor="end" style="font-family:'Liberation Sans',sans-serif;font-size:4.4px;" fill="#333">6.5</text>
<line x1="251.60" y1="302.80" x2="255.60" y2="302.80" stroke="#555" stroke-width="0.7"/>
<text x="249.80" y="304.30" text-anchor="end" style="font-family:'Liberation Sans',sans-serif;font-size:4.4px;" fill="#333">6</text>
<line x1="251.60" y1="344.10" x2="255.60" y2="344.10" stroke="#555" stroke-width="0.7"/>
<text x="249.80" y="345.60" text-anchor="end" style="font-family:'Liberation Sans',sans-serif;font-size:4.4px;" fill="#333">5.5</text>
<line x1="251.60" y1="385.40" x2="255.60" y2="385.40" stroke="#555" stroke-width="0.7"/>
<text x="249.80" y="386.90" text-anchor="end" style="font-family:'Liberation Sans',sans-serif;font-size:4.4px;" fill="#333">5</text>
<line x1="251.60" y1="426.70" x2="255.60" y2="426.70" stroke="#555" stroke-width="0.7"/>
<text x="249.80" y="428.20" text-anchor="end" style="font-family:'Liberation Sans',sans-serif;font-size:4.4px;" fill="#333">4.5</text>
<line x1="486.60" y1="423.20" x2="486.60" y2="427.20" stroke="#555" stroke-width="0.7"/>
<text x="486.60" y="431.90" text-anchor="middle" style="font-family:'Liberation Sans',sans-serif;font-size:4.4px;" fill="#333">40</text>
<line x1="522.62" y1="423.20" x2="522.62" y2="427.20" stroke="#555" stroke-width="0.7"/>
<text x="522.62" y="431.90" text-anchor="middle" style="font-family:'Liberation Sans',sans-serif;font-size:4.4px;" fill="#333">42</text>
<line x1="558.64" y1="423.20" x2="558.64" y2="427.20" stroke="#555" stroke-width="0.7"/>
<text x="558.64" y="431.90" text-anchor="middle" style="font-family:'Liberation Sans',sans-serif;font-size:4.4px;" fill="#333">44</text>
<line x1="594.66" y1="423.20" x2="594.66" y2="427.20" stroke="#555" stroke-width="0.7"/>
<text x="594.66" y="431.90" text-anchor="middle" style="font-family:'Liberation Sans',sans-serif;font-size:4.4px;" fill="#333">46</text>
<line x1="630.68" y1="423.20" x2="630.68" y2="427.20" stroke="#555" stroke-width="0.7"/>
<text x="630.68" y="431.90" text-anchor="middle" style="font-family:'Liberation Sans',sans-serif;font-size:4.4px;" fill="#333">48</text>
<line x1="666.70" y1="423.20" x2="666.70" y2="427.20" stroke="#555" stroke-width="0.7"/>
<text x="666.70" y="431.90" text-anchor="middle" style="font-family:'Liberation Sans',sans-serif;font-size:4.4px;" fill="#333">50</text>
<line x1="482.60" y1="259.60" x2="486.60" y2="259.60" stroke="#555" stroke-width="0.7"/>
<text x="481.00" y="261.10" text-anchor="end" style="font-family:'Liberation Sans',sans-serif;font-size:4.4px;" fill="#333">6.5</text>
<line x1="482.60" y1="300.50" x2="486.60" y2="300.50" stroke="#555" stroke-width="0.7"/>
<text x="481.00" y="302.00" text-anchor="end" style="font-family:'Liberation Sans',sans-serif;font-size:4.4px;" fill="#333">6</text>
<line x1="482.60" y1="341.40" x2="486.60" y2="341.40" stroke="#555" stroke-width="0.7"/>
<text x="481.00" y="342.90" text-anchor="end" style="font-family:'Liberation Sans',sans-serif;font-size:4.4px;" fill="#333">5.5</text>
<line x1="482.60" y1="382.30" x2="486.60" y2="382.30" stroke="#555" stroke-width="0.7"/>
<text x="481.00" y="383.80" text-anchor="end" style="font-family:'Liberation Sans',sans-serif;font-size:4.4px;" fill="#333">5</text>
<line x1="482.60" y1="423.20" x2="486.60" y2="423.20" stroke="#555" stroke-width="0.7"/>
<text x="481.00" y="424.70" text-anchor="end" style="font-family:'Liberation Sans',sans-serif;font-size:4.4px;" fill="#333">4.5</text>
<rect x="35.30" y="21.40" width="181.20" height="179.60" fill="url(#gA)"/>
<g clip-path="url(#cA)"><circle cx="0" cy="0" r="0.91389" transform="matrix(100.65974 -231.19018 -142.43281 -62.01496 123.387 170.016)" fill="none" stroke="#1a1a1a" stroke-width="0.9" vector-effect="non-scaling-stroke"/><circle cx="0" cy="0" r="0.75825" transform="matrix(100.65974 -231.19018 -142.43281 -62.01496 123.387 170.016)" fill="none" stroke="#1a1a1a" stroke-width="0.9" vector-effect="non-scaling-stroke"/><circle cx="0" cy="0" r="0.56096" transform="matrix(100.65974 -231.19018 -142.43281 -62.01496 123.387 170.016)" fill="none" stroke="#1a1a1a" stroke-width="0.9" vector-effect="non-scaling-stroke"/><circle cx="0" cy="0" r="0.23328" transform="matrix(100.65974 -231.19018 -142.43281 -62.01496 123.387 170.016)" fill="none" stroke="#1a1a1a" stroke-width="0.9" vector-effect="non-scaling-stroke"/></g>
<rect x="35.30" y="21.40" width="181.20" height="179.60" fill="none" stroke="#666" stroke-width="0.8"/>
<rect x="40.90" y="26.30" width="6" height="5.2" fill="#f2f2f4" stroke="#555" stroke-width="0.7"/>
<text x="43.90" y="30.20" text-anchor="middle" style="font-family:'Liberation Sans',sans-serif;font-size:3.6px" fill="#555">40</text>
<rect x="56.70" y="47.10" width="6" height="5.2" fill="#f2f2f4" stroke="#555" stroke-width="0.7"/>
<text x="59.70" y="51.00" text-anchor="middle" style="font-family:'Liberation Sans',sans-serif;font-size:3.6px" fill="#555">50</text>
<rect x="106.80" y="47.70" width="6" height="5.2" fill="#f2f2f4" stroke="#555" stroke-width="0.7"/>
<text x="109.80" y="51.60" text-anchor="middle" style="font-family:'Liberation Sans',sans-serif;font-size:3.6px" fill="#555">60</text>
<rect x="129.20" y="110.50" width="6" height="5.2" fill="#f2f2f4" stroke="#555" stroke-width="0.7"/>
<text x="132.20" y="114.40" text-anchor="middle" style="font-family:'Liberation Sans',sans-serif;font-size:3.6px" fill="#555">70</text>
<rect x="208.10" y="177.70" width="6" height="5.2" fill="#f2f2f4" stroke="#555" stroke-width="0.7"/>
<text x="211.10" y="181.60" text-anchor="middle" style="font-family:'Liberation Sans',sans-serif;font-size:3.6px" fill="#555">60</text>
<circle cx="125.90" cy="111.20" r="1.6" fill="#b00" stroke="#200" stroke-width="1"/>
<rect x="121.10" y="109.90" width="0.9" height="2.6" fill="#200"/>
<circle cx="35.30" cy="21.40" r="1.5" fill="#c00000" stroke="#500" stroke-width="0.6"/>
<circle cx="216.50" cy="21.40" r="1.5" fill="#c00000" stroke="#500" stroke-width="0.6"/>
<circle cx="35.30" cy="201.00" r="1.5" fill="#c00000" stroke="#500" stroke-width="0.6"/>
<circle cx="216.50" cy="201.00" r="1.5" fill="#c00000" stroke="#500" stroke-width="0.6"/>
<rect x="253.00" y="22.00" width="185.00" height="175.20" fill="url(#gB)"/>
<g clip-path="url(#cB)"><circle cx="0" cy="0" r="0.91145" transform="matrix(99.57933 -152.54940 -114.79084 -74.93176 359.628 104.727)" fill="none" stroke="#1a1a1a" stroke-width="0.9" vector-effect="non-scaling-stroke"/><circle cx="0" cy="0" r="0.81419" transform="matrix(99.57933 -152.54940 -114.79084 -74.93176 359.628 104.727)" fill="none" stroke="#1a1a1a" stroke-width="0.9" vector-effect="non-scaling-stroke"/><circle cx="0" cy="0" r="0.70362" transform="matrix(99.57933 -152.54940 -114.79084 -74.93176 359.628 104.727)" fill="none" stroke="#1a1a1a" stroke-width="0.9" vector-effect="non-scaling-stroke"/><circle cx="0" cy="0" r="0.57206" transform="matrix(99.57933 -152.54940 -114.79084 -74.93176 359.628 104.727)" fill="none" stroke="#1a1a1a" stroke-width="0.9" vector-effect="non-scaling-stroke"/><circle cx="0" cy="0" r="0.39927" transform="matrix(99.57933 -152.54940 -114.79084 -74.93176 359.628 104.727)" fill="none" stroke="#1a1a1a" stroke-width="0.9" vector-effect="non-scaling-stroke"/></g>
<rect x="253.00" y="22.00" width="185.00" height="175.20" fill="none" stroke="#666" stroke-width="0.8"/>
<rect x="256.30" y="25.70" width="6" height="5.2" fill="#f2f2f4" stroke="#555" stroke-width="0.7"/>
<text x="259.30" y="29.60" text-anchor="middle" style="font-family:'Liberation Sans',sans-serif;font-size:3.6px" fill="#555">45</text>
<rect x="263.90" y="38.60" width="6" height="5.2" fill="#f2f2f4" stroke="#555" stroke-width="0.7"/>
<text x="266.90" y="42.50" text-anchor="middle" style="font-family:'Liberation Sans',sans-serif;font-size:3.6px" fill="#555">50</text>
<rect x="268.20" y="61.00" width="6" height="5.2" fill="#f2f2f4" stroke="#555" stroke-width="0.7"/>
<text x="271.20" y="64.90" text-anchor="middle" style="font-family:'Liberation Sans',sans-serif;font-size:3.6px" fill="#555">55</text>
<rect x="273.80" y="96.60" width="6" height="5.2" fill="#f2f2f4" stroke="#555" stroke-width="0.7"/>
<text x="276.80" y="100.50" text-anchor="middle" style="font-family:'Liberation Sans',sans-serif;font-size:3.6px" fill="#555">60</text>
<rect x="428.00" y="26.20" width="6" height="5.2" fill="#f2f2f4" stroke="#555" stroke-width="0.7"/>
<text x="431.00" y="30.10" text-anchor="middle" style="font-family:'Liberation Sans',sans-serif;font-size:3.6px" fill="#555">60</text>
<rect x="407.40" y="162.50" width="6" height="5.2" fill="#f2f2f4" stroke="#555" stroke-width="0.7"/>
<text x="410.40" y="166.40" text-anchor="middle" style="font-family:'Liberation Sans',sans-serif;font-size:3.6px" fill="#555">60</text>
<rect x="420.30" y="174.10" width="6" height="5.2" fill="#f2f2f4" stroke="#555" stroke-width="0.7"/>
<text x="423.30" y="178.00" text-anchor="middle" style="font-family:'Liberation Sans',sans-serif;font-size:3.6px" fill="#555">55</text>
<rect x="430.00" y="186.60" width="6" height="5.2" fill="#f2f2f4" stroke="#555" stroke-width="0.7"/>
<text x="433.00" y="190.50" text-anchor="middle" style="font-family:'Liberation Sans',sans-serif;font-size:3.6px" fill="#555">50</text>
<rect x="331.20" y="167.30" width="6" height="5.2" fill="#f2f2f4" stroke="#555" stroke-width="0.7"/>
<text x="334.20" y="171.20" text-anchor="middle" style="font-family:'Liberation Sans',sans-serif;font-size:3.6px" fill="#555">65</text>
<rect x="255.80" y="167.90" width="6" height="5.2" fill="#f2f2f4" stroke="#555" stroke-width="0.7"/>
<text x="258.80" y="171.80" text-anchor="middle" style="font-family:'Liberation Sans',sans-serif;font-size:3.6px" fill="#555">55</text>
<circle cx="345.50" cy="109.60" r="1.6" fill="#b00" stroke="#200" stroke-width="1"/>
<rect x="340.70" y="108.30" width="0.9" height="2.6" fill="#200"/>
<circle cx="253.00" cy="22.00" r="1.5" fill="#c00000" stroke="#500" stroke-width="0.6"/>
<circle cx="438.00" cy="22.00" r="1.5" fill="#c00000" stroke="#500" stroke-width="0.6"/>
<circle cx="253.00" cy="197.20" r="1.5" fill="#c00000" stroke="#500" stroke-width="0.6"/>
<circle cx="438.00" cy="197.20" r="1.5" fill="#c00000" stroke="#500" stroke-width="0.6"/>
<rect x="484.00" y="20.70" width="182.00" height="180.60" fill="url(#gC)"/>
<g clip-path="url(#cC)"><circle cx="0" cy="0" r="0.92199" transform="matrix(-78.56603 -155.81613 -123.03020 62.03462 588.406 112.918)" fill="none" stroke="#1a1a1a" stroke-width="0.9" vector-effect="non-scaling-stroke"/><circle cx="0" cy="0" r="0.82295" transform="matrix(-78.56603 -155.81613 -123.03020 62.03462 588.406 112.918)" fill="none" stroke="#1a1a1a" stroke-width="0.9" vector-effect="non-scaling-stroke"/><circle cx="0" cy="0" r="0.71024" transform="matrix(-78.56603 -155.81613 -123.03020 62.03462 588.406 112.918)" fill="none" stroke="#1a1a1a" stroke-width="0.9" vector-effect="non-scaling-stroke"/><circle cx="0" cy="0" r="0.57586" transform="matrix(-78.56603 -155.81613 -123.03020 62.03462 588.406 112.918)" fill="none" stroke="#1a1a1a" stroke-width="0.9" vector-effect="non-scaling-stroke"/><circle cx="0" cy="0" r="0.39850" transform="matrix(-78.56603 -155.81613 -123.03020 62.03462 588.406 112.918)" fill="none" stroke="#1a1a1a" stroke-width="0.9" vector-effect="non-scaling-stroke"/></g>
<rect x="484.00" y="20.70" width="182.00" height="180.60" fill="none" stroke="#666" stroke-width="0.8"/>
<rect x="485.00" y="114.90" width="6" height="5.2" fill="#f2f2f4" stroke="#555" stroke-width="0.7"/>
<text x="488.00" y="118.80" text-anchor="middle" style="font-family:'Liberation Sans',sans-serif;font-size:3.6px" fill="#555">55</text>
<rect x="503.80" y="112.50" width="6" height="5.2" fill="#f2f2f4" stroke="#555" stroke-width="0.7"/>
<text x="506.80" y="116.40" text-anchor="middle" style="font-family:'Liberation Sans',sans-serif;font-size:3.6px" fill="#555">60</text>
<rect x="493.70" y="175.70" width="6" height="5.2" fill="#f2f2f4" stroke="#555" stroke-width="0.7"/>
<text x="496.70" y="179.60" text-anchor="middle" style="font-family:'Liberation Sans',sans-serif;font-size:3.6px" fill="#555">50</text>
<rect x="485.40" y="187.70" width="6" height="5.2" fill="#f2f2f4" stroke="#555" stroke-width="0.7"/>
<text x="488.40" y="191.60" text-anchor="middle" style="font-family:'Liberation Sans',sans-serif;font-size:3.6px" fill="#555">45</text>
<rect x="635.30" y="43.70" width="6" height="5.2" fill="#f2f2f4" stroke="#555" stroke-width="0.7"/>
<text x="638.30" y="47.60" text-anchor="middle" style="font-family:'Liberation Sans',sans-serif;font-size:3.6px" fill="#555">60</text>
<rect x="649.20" y="30.70" width="6" height="5.2" fill="#f2f2f4" stroke="#555" stroke-width="0.7"/>
<text x="652.20" y="34.60" text-anchor="middle" style="font-family:'Liberation Sans',sans-serif;font-size:3.6px" fill="#555">55</text>
<rect x="583.10" y="173.70" width="6" height="5.2" fill="#f2f2f4" stroke="#555" stroke-width="0.7"/>
<text x="586.10" y="177.60" text-anchor="middle" style="font-family:'Liberation Sans',sans-serif;font-size:3.6px" fill="#555">65</text>
<rect x="651.90" y="180.60" width="6" height="5.2" fill="#f2f2f4" stroke="#555" stroke-width="0.7"/>
<text x="654.90" y="184.50" text-anchor="middle" style="font-family:'Liberation Sans',sans-serif;font-size:3.6px" fill="#555">60</text>
<circle cx="575.00" cy="111.00" r="1.6" fill="#b00" stroke="#200" stroke-width="1"/>
<rect x="570.20" y="109.70" width="0.9" height="2.6" fill="#200"/>
<circle cx="484.00" cy="20.70" r="1.5" fill="#c00000" stroke="#500" stroke-width="0.6"/>
<circle cx="666.00" cy="20.70" r="1.5" fill="#c00000" stroke="#500" stroke-width="0.6"/>
<circle cx="484.00" cy="201.30" r="1.5" fill="#c00000" stroke="#500" stroke-width="0.6"/>
<circle cx="666.00" cy="201.30" r="1.5" fill="#c00000" stroke="#500" stroke-width="0.6"/>
<rect x="36.60" y="259.00" width="183.90" height="169.50" fill="url(#gD)"/>
<g clip-path="url(#cD)"><circle cx="0" cy="0" r="0.84010" transform="matrix(-210.72770 111.19632 71.90722 136.27110 58.979 363.232)" fill="none" stroke="#1a1a1a" stroke-width="0.9" vector-effect="non-scaling-stroke"/><circle cx="0" cy="0" r="0.62738" transform="matrix(-210.72770 111.19632 71.90722 136.27110 58.979 363.232)" fill="none" stroke="#1a1a1a" stroke-width="0.9" vector-effect="non-scaling-stroke"/><circle cx="0" cy="0" r="0.28540" transform="matrix(-210.72770 111.19632 71.90722 136.27110 58.979 363.232)" fill="none" stroke="#1a1a1a" stroke-width="0.9" vector-effect="non-scaling-stroke"/></g>
<rect x="36.60" y="259.00" width="183.90" height="169.50" fill="none" stroke="#666" stroke-width="0.8"/>
<rect x="44.30" y="259.20" width="6" height="5.2" fill="#f2f2f4" stroke="#555" stroke-width="0.7"/>
<text x="47.30" y="263.10" text-anchor="middle" style="font-family:'Liberation Sans',sans-serif;font-size:3.6px" fill="#555">60</text>
<rect x="118.10" y="348.90" width="6" height="5.2" fill="#f2f2f4" stroke="#555" stroke-width="0.7"/>
<text x="121.10" y="352.80" text-anchor="middle" style="font-family:'Liberation Sans',sans-serif;font-size:3.6px" fill="#555">70</text>
<rect x="192.70" y="342.30" width="6" height="5.2" fill="#f2f2f4" stroke="#555" stroke-width="0.7"/>
<text x="195.70" y="346.20" text-anchor="middle" style="font-family:'Liberation Sans',sans-serif;font-size:3.6px" fill="#555">60</text>
<rect x="201.60" y="404.30" width="6" height="5.2" fill="#f2f2f4" stroke="#555" stroke-width="0.7"/>
<text x="204.60" y="408.20" text-anchor="middle" style="font-family:'Liberation Sans',sans-serif;font-size:3.6px" fill="#555">50</text>
<circle cx="128.55" cy="343.75" r="1.6" fill="#b00" stroke="#200" stroke-width="1"/>
<rect x="123.75" y="342.45" width="0.9" height="2.6" fill="#200"/>
<circle cx="36.60" cy="259.00" r="1.5" fill="#c00000" stroke="#500" stroke-width="0.6"/>
<circle cx="220.50" cy="259.00" r="1.5" fill="#c00000" stroke="#500" stroke-width="0.6"/>
<circle cx="36.60" cy="428.50" r="1.5" fill="#c00000" stroke="#500" stroke-width="0.6"/>
<circle cx="220.50" cy="428.50" r="1.5" fill="#c00000" stroke="#500" stroke-width="0.6"/>
<rect x="255.60" y="261.50" width="181.90" height="165.20" fill="url(#gE)"/>
<g clip-path="url(#cE)"><circle cx="0" cy="0" r="0.87959" transform="matrix(-195.13364 -45.80013 -33.64854 143.36122 285.703 337.143)" fill="none" stroke="#1a1a1a" stroke-width="0.9" vector-effect="non-scaling-stroke"/><circle cx="0" cy="0" r="0.65118" transform="matrix(-195.13364 -45.80013 -33.64854 143.36122 285.703 337.143)" fill="none" stroke="#1a1a1a" stroke-width="0.9" vector-effect="non-scaling-stroke"/><circle cx="0" cy="0" r="0.27276" transform="matrix(-195.13364 -45.80013 -33.64854 143.36122 285.703 337.143)" fill="none" stroke="#1a1a1a" stroke-width="0.9" vector-effect="non-scaling-stroke"/></g>
<rect x="255.60" y="261.50" width="181.90" height="165.20" fill="none" stroke="#666" stroke-width="0.8"/>
<rect x="336.60" y="334.70" width="6" height="5.2" fill="#f2f2f4" stroke="#555" stroke-width="0.7"/>
<text x="339.60" y="338.60" text-anchor="middle" style="font-family:'Liberation Sans',sans-serif;font-size:3.6px" fill="#555">70</text>
<rect x="411.00" y="339.10" width="6" height="5.2" fill="#f2f2f4" stroke="#555" stroke-width="0.7"/>
<text x="414.00" y="343.00" text-anchor="middle" style="font-family:'Liberation Sans',sans-serif;font-size:3.6px" fill="#555">60</text>
<rect x="422.40" y="269.90" width="6" height="5.2" fill="#f2f2f4" stroke="#555" stroke-width="0.7"/>
<text x="425.40" y="273.80" text-anchor="middle" style="font-family:'Liberation Sans',sans-serif;font-size:3.6px" fill="#555">50</text>
<rect x="430.40" y="417.10" width="6" height="5.2" fill="#f2f2f4" stroke="#555" stroke-width="0.7"/>
<text x="433.40" y="421.00" text-anchor="middle" style="font-family:'Liberation Sans',sans-serif;font-size:3.6px" fill="#555">50</text>
<circle cx="346.55" cy="344.10" r="1.6" fill="#b00" stroke="#200" stroke-width="1"/>
<rect x="341.75" y="342.80" width="0.9" height="2.6" fill="#200"/>
<circle cx="255.60" cy="261.50" r="1.5" fill="#c00000" stroke="#500" stroke-width="0.6"/>
<circle cx="437.50" cy="261.50" r="1.5" fill="#c00000" stroke="#500" stroke-width="0.6"/>
<circle cx="255.60" cy="426.70" r="1.5" fill="#c00000" stroke="#500" stroke-width="0.6"/>
<circle cx="437.50" cy="426.70" r="1.5" fill="#c00000" stroke="#500" stroke-width="0.6"/>
<rect x="486.60" y="259.60" width="180.10" height="163.60" fill="url(#gF)"/>
<g clip-path="url(#cF)"><circle cx="0" cy="0" r="0.85172" transform="matrix(-135.29281 -35.60502 -30.85629 117.24848 577.052 340.294)" fill="none" stroke="#1a1a1a" stroke-width="0.9" vector-effect="non-scaling-stroke"/><circle cx="0" cy="0" r="0.68799" transform="matrix(-135.29281 -35.60502 -30.85629 117.24848 577.052 340.294)" fill="none" stroke="#1a1a1a" stroke-width="0.9" vector-effect="non-scaling-stroke"/><circle cx="0" cy="0" r="0.47035" transform="matrix(-135.29281 -35.60502 -30.85629 117.24848 577.052 340.294)" fill="none" stroke="#1a1a1a" stroke-width="0.9" vector-effect="non-scaling-stroke"/></g>
<rect x="486.60" y="259.60" width="180.10" height="163.60" fill="none" stroke="#666" stroke-width="0.8"/>
<rect x="506.10" y="272.70" width="6" height="5.2" fill="#f2f2f4" stroke="#555" stroke-width="0.7"/>
<text x="509.10" y="276.60" text-anchor="middle" style="font-family:'Liberation Sans',sans-serif;font-size:3.6px" fill="#555">60</text>
<rect x="636.70" y="276.40" width="6" height="5.2" fill="#f2f2f4" stroke="#555" stroke-width="0.7"/>
<text x="639.70" y="280.30" text-anchor="middle" style="font-family:'Liberation Sans',sans-serif;font-size:3.6px" fill="#555">60</text>
<rect x="652.40" y="263.40" width="6" height="5.2" fill="#f2f2f4" stroke="#555" stroke-width="0.7"/>
<text x="655.40" y="267.30" text-anchor="middle" style="font-family:'Liberation Sans',sans-serif;font-size:3.6px" fill="#555">55</text>
<rect x="510.70" y="395.30" width="6" height="5.2" fill="#f2f2f4" stroke="#555" stroke-width="0.7"/>
<text x="513.70" y="399.20" text-anchor="middle" style="font-family:'Liberation Sans',sans-serif;font-size:3.6px" fill="#555">60</text>
<rect x="495.00" y="408.60" width="6" height="5.2" fill="#f2f2f4" stroke="#555" stroke-width="0.7"/>
<text x="498.00" y="412.50" text-anchor="middle" style="font-family:'Liberation Sans',sans-serif;font-size:3.6px" fill="#555">55</text>
<rect x="567.10" y="393.30" width="6" height="5.2" fill="#f2f2f4" stroke="#555" stroke-width="0.7"/>
<text x="570.10" y="397.20" text-anchor="middle" style="font-family:'Liberation Sans',sans-serif;font-size:3.6px" fill="#555">65</text>
<rect x="641.40" y="400.30" width="6" height="5.2" fill="#f2f2f4" stroke="#555" stroke-width="0.7"/>
<text x="644.40" y="404.20" text-anchor="middle" style="font-family:'Liberation Sans',sans-serif;font-size:3.6px" fill="#555">60</text>
<rect x="658.90" y="413.80" width="6" height="5.2" fill="#f2f2f4" stroke="#555" stroke-width="0.7"/>
<text x="661.90" y="417.70" text-anchor="middle" style="font-family:'Liberation Sans',sans-serif;font-size:3.6px" fill="#555">55</text>
<circle cx="576.65" cy="341.40" r="1.6" fill="#b00" stroke="#200" stroke-width="1"/>
<rect x="571.85" y="340.10" width="0.9" height="2.6" fill="#200"/>
<circle cx="486.60" cy="259.60" r="1.5" fill="#c00000" stroke="#500" stroke-width="0.6"/>
<circle cx="666.70" cy="259.60" r="1.5" fill="#c00000" stroke="#500" stroke-width="0.6"/>
<circle cx="486.60" cy="423.20" r="1.5" fill="#c00000" stroke="#500" stroke-width="0.6"/>
<circle cx="666.70" cy="423.20" r="1.5" fill="#c00000" stroke="#500" stroke-width="0.6"/>
<text x="92.80" y="6.90" textLength="39.70" lengthAdjust="spacingAndGlyphs" style="font-family:'Liberation Sans',sans-serif;font-weight:bold;font-size:8.00px" fill="#000">IMOs (g/l)</text>
<text x="306.00" y="8.70" textLength="39.50" lengthAdjust="spacingAndGlyphs" style="font-family:'Liberation Sans',sans-serif;font-weight:bold;font-size:8.00px" fill="#000">IMOs (g/l)</text>
<text x="531.20" y="6.90" textLength="39.50" lengthAdjust="spacingAndGlyphs" style="font-family:'Liberation Sans',sans-serif;font-weight:bold;font-size:8.00px" fill="#000">IMOs (g/l)</text>
<text x="101.30" y="246.90" textLength="39.90" lengthAdjust="spacingAndGlyphs" style="font-family:'Liberation Sans',sans-serif;font-weight:bold;font-size:8.00px" fill="#000">IMOs (g/l)</text>
<text x="329.90" y="250.40" textLength="40.20" lengthAdjust="spacingAndGlyphs" style="font-family:'Liberation Sans',sans-serif;font-weight:bold;font-size:8.00px" fill="#000">IMOs (g/l)</text>
<text x="540.40" y="248.90" textLength="40.00" lengthAdjust="spacingAndGlyphs" style="font-family:'Liberation Sans',sans-serif;font-weight:bold;font-size:8.00px" fill="#000">IMOs (g/l)</text>
<text x="68.80" y="224.70" textLength="112.80" lengthAdjust="spacingAndGlyphs" style="font-family:'Liberation Sans',sans-serif;font-weight:bold;font-size:8.20px" fill="#000">Enzyme/substrate ratio (U/g)</text>
<text x="290.60" y="220.40" textLength="113.30" lengthAdjust="spacingAndGlyphs" style="font-family:'Liberation Sans',sans-serif;font-weight:bold;font-size:8.20px" fill="#000">Enzyme/substrate ratio (U/g)</text>
<text x="517.90" y="224.50" textLength="113.70" lengthAdjust="spacingAndGlyphs" style="font-family:'Liberation Sans',sans-serif;font-weight:bold;font-size:8.20px" fill="#000">Enzyme/substrate ratio (U/g)</text>
<text x="83.90" y="452.50" textLength="67.30" lengthAdjust="spacingAndGlyphs" style="font-family:'Liberation Sans',sans-serif;font-weight:bold;font-size:8.20px" fill="#000">Reaction time (h)</text>
<text x="309.20" y="452.50" textLength="66.50" lengthAdjust="spacingAndGlyphs" style="font-family:'Liberation Sans',sans-serif;font-weight:bold;font-size:8.20px" fill="#000">Reaction time (h)</text>
<text x="521.20" y="446.60" textLength="67.20" lengthAdjust="spacingAndGlyphs" style="font-family:'Liberation Sans',sans-serif;font-weight:bold;font-size:8.20px" fill="#000">Temperature (<tspan dy="-2.6" style="font-size:5.2px">o</tspan><tspan dy="2.6">C)</tspan></text>
<text transform="translate(13.80 146.70) rotate(-90)" x="0" y="0" textLength="67.40" lengthAdjust="spacingAndGlyphs" style="font-family:'Liberation Sans',sans-serif;font-weight:bold;font-size:8.40px" fill="#000">Reaction time (h)</text>
<text transform="translate(231.00 142.80) rotate(-90)" x="0" y="0" textLength="67.50" lengthAdjust="spacingAndGlyphs" style="font-family:'Liberation Sans',sans-serif;font-weight:bold;font-size:8.40px" fill="#000">Temperature (<tspan dy="-2.6" style="font-size:5.2px">o</tspan><tspan dy="2.6">C)</tspan></text>
<text transform="translate(459.20 123.00) rotate(-90)" x="0" y="0" textLength="10.00" lengthAdjust="spacingAndGlyphs" style="font-family:'Liberation Sans',sans-serif;font-weight:bold;font-size:8.40px" fill="#000">pH</text>
<text transform="translate(9.90 382.00) rotate(-90)" x="0" y="0" textLength="68.20" lengthAdjust="spacingAndGlyphs" style="font-family:'Liberation Sans',sans-serif;font-weight:bold;font-size:8.40px" fill="#000">Temperature (<tspan dy="-2.6" style="font-size:5.2px">o</tspan><tspan dy="2.6">C)</tspan></text>
<text transform="translate(232.50 357.60) rotate(-90)" x="0" y="0" textLength="9.90" lengthAdjust="spacingAndGlyphs" style="font-family:'Liberation Sans',sans-serif;font-weight:bold;font-size:8.40px" fill="#000">pH</text>
<text transform="translate(459.80 353.90) rotate(-90)" x="0" y="0" textLength="9.90" lengthAdjust="spacingAndGlyphs" style="font-family:'Liberation Sans',sans-serif;font-weight:bold;font-size:8.40px" fill="#000">pH</text>
<text x="1.00" y="39.60" textLength="10.90" lengthAdjust="spacingAndGlyphs" style="font-family:'Liberation Serif',serif;font-weight:bold;font-size:16.30px" fill="#000">A</text>
<text x="227.30" y="34.10" textLength="9.50" lengthAdjust="spacingAndGlyphs" style="font-family:'Liberation Serif',serif;font-weight:bold;font-size:16.30px" fill="#000">B</text>
<text x="456.90" y="36.80" textLength="11.00" lengthAdjust="spacingAndGlyphs" style="font-family:'Liberation Serif',serif;font-weight:bold;font-size:16.30px" fill="#000">C</text>
<text x="9.20" y="272.70" textLength="10.90" lengthAdjust="spacingAndGlyphs" style="font-family:'Liberation Serif',serif;font-weight:bold;font-size:16.30px" fill="#000">D</text>
<text x="227.30" y="270.80" textLength="9.50" lengthAdjust="spacingAndGlyphs" style="font-family:'Liberation Serif',serif;font-weight:bold;font-size:16.30px" fill="#000">E</text>
<text x="456.30" y="272.70" textLength="8.50" lengthAdjust="spacingAndGlyphs" style="font-family:'Liberation Serif',serif;font-weight:bold;font-size:16.30px" fill="#000">F</text>
<rect x="129" y="18.8" width="5" height="1" fill="#666"/><rect x="137" y="18.8" width="1" height="1" fill="#888"/>
<rect x="350.2" y="19.8" width="1.5" height="1" fill="#777"/>
</svg>
</body></html>
